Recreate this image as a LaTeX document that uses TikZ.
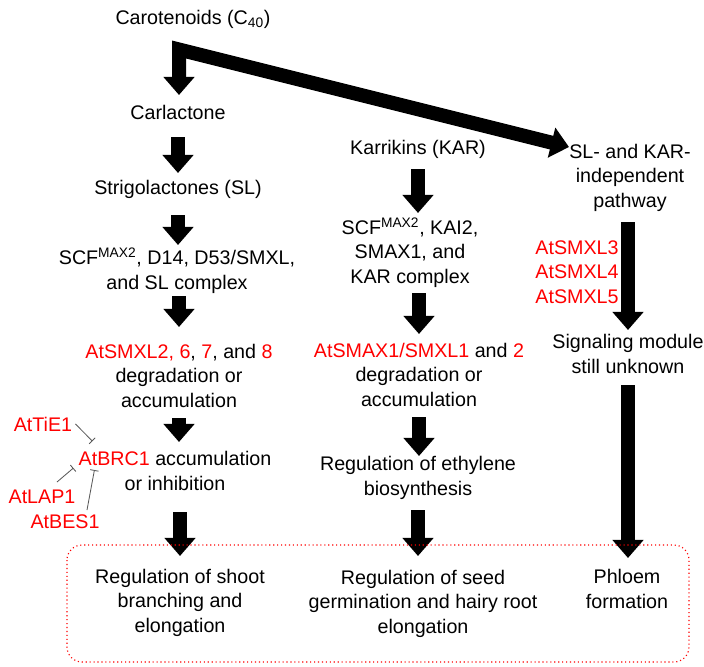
\documentclass[tikz,border=0pt]{standalone}
\usepackage{fontspec}
\setmainfont{Liberation Sans}
\usepackage{xcolor}
\usetikzlibrary{arrows.meta}
\newdimen\pxu \pxu=0.7113pt
\newcommand{\gene}[1]{\textcolor{red}{#1}}

\begin{document}
\begin{tikzpicture}
  [
    x=.025cm, y=-.025cm,
    every node/.style={align=center, inner sep=0pt, anchor=base, font=\fontsize{14}{17.3}\selectfont},
    bigtip/.tip={Triangle[width=.75cm,length=.45cm]},
    bigarrow/.style={line width=.35cm, -bigtip},
    inhib/.style={draw=black!65, line width=.6pt, -{Bar[width=6pt]}}
  ]

  % Rahmen
  \useasboundingbox (0,0) rectangle (704,666);

  % linke Spalte (base = letzte Zeile)
  \node (caro) at (193,24) {Carotenoids (C\textsubscript{40})};
  \node (carl) at (178,119) {Carlactone};
  \node (sl) at (178,194) {Strigolactones (SL)};
  \node (slcx) at (177,289) {SCF\textsuperscript{MAX2}, D14, D53/SMXL,\\and SL complex};
  \node (smxl) at (179,407) {\gene{AtSMXL2, 6}, \gene{7}, and \gene{8}\\degradation or\\accumulation};
  \node (brc) at (175,490) {\gene{AtBRC1} accumulation\\or inhibition};
  \node (shoot) at (180,632) {Regulation of shoot\\branching and\\elongation};
  \node[red] (tie) at (43,431) {AtTiE1};
  \node[red] (lap) at (42,503) {AtLAP1};
  \node[red] (bes) at (65,528) {AtBES1};

  % mittlere Spalte
  \node (kar) at (418,154) {Karrikins (KAR)};
  \node (karcx) at (410,283) {SCF\textsuperscript{MAX2}, KAI2,\\SMAX1, and\\KAR complex};
  \node (smax) at (419,406) {\gene{AtSMAX1/SMXL1} and \gene{2}\\degradation or\\accumulation};
  \node (eth) at (418,495) {Regulation of ethylene\\biosynthesis};
  \node (seed) at (423,633) {Regulation of seed\\germination and hairy root\\elongation};

  % rechte Spalte
  \node (slind) at (630,207) {SL- and KAR-\\independent\\pathway};
  \node[red] (smxlr) at (577,303) {AtSMXL3\\AtSMXL4\\AtSMXL5};
  \node (sig) at (628,373) {Signaling module\\still unknown};
  \node (phl) at (627,608) {Phloem\\formation};

  % Pfeile
  \coordinate (bend) at (179,49.5);
  \draw[bigarrow, bigtip-bigtip, line join=miter, shorten >=24\pxu]
    ([shift={(0,-60)}]slind.base west) -- (bend) -- (bend |- carl.base);
  \draw[bigarrow, shorten <=18\pxu, shorten >=21\pxu] (carl.base) -- (carl.base |- sl.base);
  \draw[bigarrow, shorten <=21\pxu, shorten >=44\pxu] (sl.base) -- (sl.base |- slcx.base);
  \draw[bigarrow, shorten <=7\pxu, shorten >=80\pxu] (smxl.base |- slcx.base) -- (smxl.base);
  \draw[bigarrow, shorten <=11\pxu, shorten >=48\pxu] (smxl.base) -- (smxl.base |- brc.base);
  \draw[bigarrow, shorten <=22\pxu, shorten >=76\pxu] (shoot.base |- brc.base) -- (shoot.base);

  \draw[bigarrow, shorten <=15\pxu, shorten >=70\pxu] (kar.base) -- (kar.base |- karcx.base);
  \draw[bigarrow, shorten <=10\pxu, shorten >=72\pxu] (smax.base |- karcx.base) -- (smax.base);
  \draw[bigarrow, shorten <=11\pxu, shorten >=39\pxu] (smax.base) -- (smax.base |- eth.base);
  \draw[bigarrow, shorten <=15\pxu, shorten >=77\pxu] (eth.base) -- (eth.base |- seed.base);

  \draw[bigarrow, shorten <=15\pxu, shorten >=43\pxu] (sig.base |- slind.base) -- (sig.base);
  \draw[bigarrow, shorten <=12\pxu, shorten >=50\pxu] (sig.base) -- (sig.base |- phl.base);

  % Hemmung
  \draw[inhib] ([shift={(3,-7)}]tie.base east) -- ([shift={(14,-10)}]brc.north west);
  \draw[inhib] ([shift={(15,-21)}]lap.base) -- ([shift={(-5,-22)}]brc.base west);
  \draw[inhib] ([shift={(22,-18)}]bes.base) -- ([shift={(16,-20)}]brc.base west);

  % Ergebnisse
  \draw[red, dotted, line width=.8pt, rounded corners=.375cm] (67,545) rectangle (689,662);
\end{tikzpicture}
\end{document}
